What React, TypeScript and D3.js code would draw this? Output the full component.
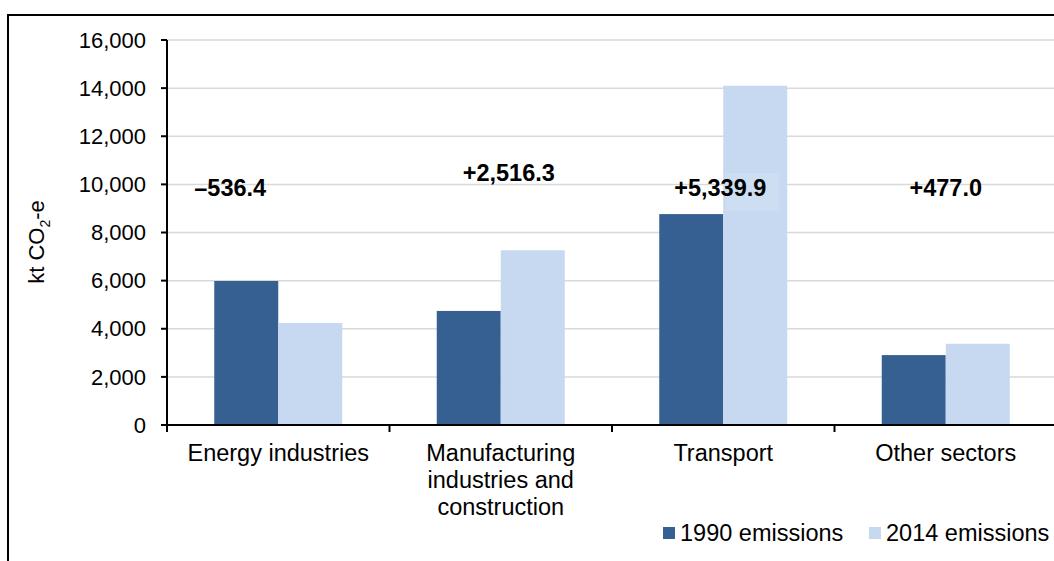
import React from "react";
import * as d3 from "d3";

const categories = ["Energy industries", "Manufacturing industries and construction", "Transport", "Other sectors"];
const categoryLines = [["Energy industries"], ["Manufacturing", "industries and", "construction"], ["Transport"], ["Other sectors"]];
const series1990 = [5985, 4740, 8765, 2905];
const series2014 = [4240, 7260, 14100, 3375];
const changeLabels = ["\u2013536.4", "+2,516.3", "+5,339.9", "+477.0"];
const labelValues = [9520, 10120, 9520, 9520];
const labelShift = [-48, 8, -3, 0];
const yTicks = [0, 2000, 4000, 6000, 8000, 10000, 12000, 14000, 16000];
const seriesNames = ["1990 emissions", "2014 emissions"];
const colors = ["#366092", "#c6d9f1"];

export default function App() {
  const W = 1054, H = 561;
  const left = 167, right = 1057, top = 40, bottom = 425;
  const x = d3.scaleBand<string>().domain(categories).range([left, right]).paddingInner(0).paddingOuter(0);
  const y = d3.scaleLinear().domain([0, 16000]).range([bottom, top]);
  const barW = 64;
  const fmt = d3.format(",");
  const font = "'Liberation Sans', Arial, sans-serif";
  return (
    <svg width={W} height={H} style={{ position: "absolute", left: 0, top: 0 }} fontFamily={font}>
      <rect x={0} y={0} width={W} height={H} fill="#fff" />
      <rect x={8} y={15} width={W + 20} height={H + 20} fill="none" stroke="#000" strokeWidth={2} />
      {yTicks.slice(1).map((t) => (
        <line key={"g" + t} x1={left} x2={right} y1={y(t)} y2={y(t)} stroke="#d9d9d9" strokeWidth={1.5} />
      ))}
      {categories.map((c, i) => {
        const cx = (x(c) as number) + x.bandwidth() / 2;
        return (
          <g key={c}>
            <rect x={cx - barW} y={y(series1990[i])} width={barW} height={bottom - y(series1990[i])} fill={colors[0]} />
            <rect x={cx} y={y(series2014[i])} width={barW} height={bottom - y(series2014[i])} fill={colors[1]} />
          </g>
        );
      })}
      <line x1={left} x2={left} y1={top} y2={bottom} stroke="#000" strokeWidth={2} />
      {yTicks.map((t) => (
        <g key={"t" + t}>
          <line x1={left - 6} x2={left} y1={y(t)} y2={y(t)} stroke="#000" strokeWidth={2} />
          <text x={left - 21} y={y(t)} dy="0.35em" textAnchor="end" fontSize={22} fill="#000">{fmt(t)}</text>
        </g>
      ))}
      <line x1={left - 1} x2={right} y1={bottom} y2={bottom} stroke="#000" strokeWidth={2} />
      {categories.map((c, i) => (
        <line key={"xt" + i} x1={x(c) as number} x2={x(c) as number} y1={bottom} y2={bottom + 7} stroke="#000" strokeWidth={2} />
      ))}
      {categories.map((c, i) => {
        const cx = (x(c) as number) + x.bandwidth() / 2;
        return (
          <text key={"cl" + i} x={cx} y={461} textAnchor="middle" fontSize={23.5} fill="#000">
            {categoryLines[i].map((l, j) => (
              <tspan key={j} x={cx} dy={j === 0 ? 0 : 27}>{l}</tspan>
            ))}
          </text>
        );
      })}
      {categories.map((c, i) => {
        const cx = (x(c) as number) + x.bandwidth() / 2 + labelShift[i];
        return (
          <g key={"lab" + i}>
            {i === 2 && <rect x={cx + 5} y={y(labelValues[i]) - 23} width={54} height={38} fill="#fff" fillOpacity={0.12} />}
            <text x={cx} y={y(labelValues[i])} textAnchor="middle" fontSize={23.5} fontWeight="bold" fill="#000">{changeLabels[i]}</text>
          </g>
        );
      })}
      <text transform={`translate(44,${242}) rotate(-90)`} textAnchor="middle" fontSize={22} fill="#000">
        kt CO<tspan fontSize={14} dy={6}>2</tspan><tspan dy={-6}>-e</tspan>
      </text>
      {seriesNames.map((n, i) => {
        const lx = [663, 869][i];
        return (
          <g key={n}>
            <rect x={lx} y={527} width={12} height={12} fill={colors[i]} />
            <text x={lx + 17} y={540.5} fontSize={23.5} fill="#000">{n}</text>
          </g>
        );
      })}
    </svg>
  );
}
